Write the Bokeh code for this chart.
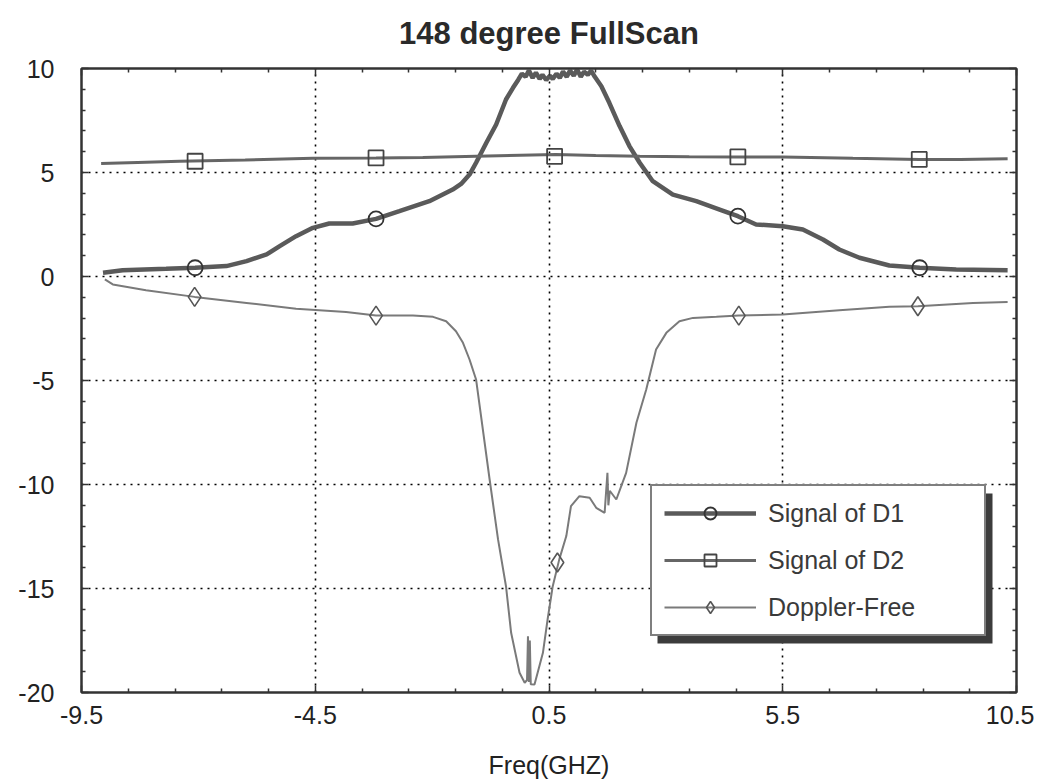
from bokeh.plotting import figure
from bokeh.models import (Range1d, FixedTicker, LinearAxis, Legend, LegendItem, BoxAnnotation,
                          CustomLabelingPolicy, CustomJSTickFormatter)
from bokeh.embed import file_html
from bokeh.resources import INLINE

# ---------------- data ----------------
title_text = "148 degree FullScan"
x_label = "Freq(GHZ)"
x_ticks = [-9.5, -4.5, 0.5, 5.5, 10.5]
x_minor = [-8.5, -7.5, -6.5, -5.5, -3.5, -2.5, -1.5, -0.5, 1.5, 2.5, 3.5, 4.5, 6.5, 7.5, 8.5, 9.5]
y_ticks = [-20, -15, -10, -5, 0, 5, 10]
y_minor = [v for v in range(-20, 11) if v % 5 != 0]

d1_x = [-9.04, -8.62, -7.69, -7.07, -6.40, -5.97, -5.54, -5.26, -4.91, -4.55, -4.20, -3.70,
        -3.20, -2.70, -2.06, -1.56, -1.38, -1.20, -1.06, -0.84, -0.63, -0.42, -0.27,
        -0.16, -0.08, 0.00, 0.07, 0.15, 0.22, 0.30, 0.36, 0.44, 0.52, 0.58, 0.66, 0.73,
        0.80, 0.88, 0.95, 1.03, 1.10, 1.18, 1.25, 1.33, 1.40, 1.48,
        1.62, 1.79, 2.01, 2.22, 2.44, 2.72, 3.15, 3.65, 4.15, 4.54, 4.93, 5.50, 5.93,
        6.36, 6.71, 7.14, 7.78, 8.43, 9.21, 10.31]
d1_y = [0.18, 0.30, 0.37, 0.42, 0.50, 0.74, 1.06, 1.46, 1.94, 2.34, 2.55, 2.55,
        2.77, 3.14, 3.62, 4.18, 4.45, 4.90, 5.47, 6.43, 7.31, 8.51, 9.07,
        9.45, 9.75, 9.60, 9.90, 9.55, 9.80, 9.50, 9.70, 9.45, 9.65, 9.50, 9.75, 9.55,
        9.85, 9.60, 9.90, 9.65, 9.95, 9.60, 9.85, 9.70, 9.90, 9.60,
        9.15, 8.35, 7.23, 6.27, 5.47, 4.58, 3.94, 3.62, 3.22, 2.90, 2.50, 2.42, 2.26,
        1.78, 1.30, 0.90, 0.53, 0.42, 0.34, 0.30]

d2_x = [-9.08, -8.30, -7.40, -6.00, -4.55, -3.20, -2.20, -1.06, 0.65, 1.50, 2.44,
        3.50, 4.50, 5.50, 7.00, 8.42, 9.30, 10.31]
d2_y = [5.43, 5.48, 5.54, 5.60, 5.69, 5.70, 5.72, 5.78, 5.86, 5.82, 5.78,
        5.76, 5.75, 5.75, 5.68, 5.63, 5.62, 5.66]

df_x = [-9.00, -8.83, -8.12, -7.08, -5.97, -4.91, -3.84, -3.20, -2.41, -1.98, -1.70,
        -1.49, -1.34, -1.20, -1.06, -0.77, -0.59, -0.42, -0.31, -0.13, -0.02, 0.03,
        0.05, 0.07, 0.09, 0.11, 0.19, 0.37, 0.47, 0.58, 0.72, 0.87, 0.97, 1.15, 1.37,
        1.51, 1.69, 1.75, 1.77, 1.80, 1.94, 2.15, 2.37, 2.58, 2.79, 3.01, 3.29, 3.58,
        4.08, 4.56, 5.50, 6.71, 7.78, 8.39, 9.57, 10.31]
df_y = [-0.14, -0.38, -0.66, -0.98, -1.27, -1.55, -1.71, -1.88, -1.88, -1.94, -2.15,
        -2.63, -3.19, -3.99, -4.95, -9.76, -12.64, -14.89, -17.13, -19.05, -19.53, -19.40,
        -17.30, -19.50, -17.50, -19.60, -19.62, -18.09, -16.49, -14.89, -13.60, -12.48,
        -11.04, -10.56, -10.64, -11.12, -11.36, -9.44, -11.00, -10.30, -10.72, -9.44,
        -7.03, -5.43, -3.51, -2.71, -2.15, -1.99, -1.94, -1.88, -1.83, -1.62, -1.46,
        -1.43, -1.27, -1.23]

d1_mx = [-7.07, -3.20, 4.54, 8.43]
d1_my = [0.42, 2.77, 2.90, 0.42]
d2_mx = [-7.07, -3.20, 0.62, 4.54, 8.42]
d2_my = [5.54, 5.70, 5.78, 5.75, 5.63]
df_mx = [-7.08, -3.20, 0.68, 4.56, 8.39]
df_my = [-0.98, -1.88, -13.75, -1.88, -1.43]

labels = ["Signal of D1", "Signal of D2", "Doppler-Free"]

# ---------------- figure ----------------
FONT = "Liberation Sans"
FW, FH = 935, 624

p = figure(frame_width=FW, frame_height=FH,
           x_range=Range1d(-9.5, 10.5), y_range=Range1d(-20, 10),
           output_backend="svg", toolbar_location=None,
           min_border_left=81, min_border_right=18, min_border_top=68, min_border_bottom=84,
           title=title_text)
p.xaxis.visible = False
p.yaxis.visible = False

p.title.align = "center"
p.title.vertical_align = "top"
p.title.text_font = FONT
p.title.text_font_size = "31px"
p.title.text_font_style = "bold"
p.title.text_color = "#2a2a2a"
p.title.standoff = 24

p.outline_line_color = "#333333"
p.outline_line_width = 2
p.background_fill_color = "white"
p.border_fill_color = "white"

no_labels = CustomLabelingPolicy(code="return new Set()")
plain = CustomJSTickFormatter(code="return String(tick)")


def style_axis(ax, show_labels):
    ax.axis_line_color = "#333333"
    ax.axis_line_width = 2
    ax.major_tick_in = 7
    ax.major_tick_out = 0
    ax.minor_tick_in = 4
    ax.minor_tick_out = 0
    ax.major_tick_line_color = "#333333"
    ax.minor_tick_line_color = "#333333"
    ax.major_tick_line_width = 1.5
    ax.minor_tick_line_width = 1.5
    ax.major_label_text_font = FONT
    ax.major_label_text_color = "#222222"
    ax.formatter = plain
    if show_labels:
        ax.major_label_text_font_size = "25px"
    else:
        ax.major_label_text_font_size = "1px"
        ax.major_label_policy = no_labels
        ax.major_label_standoff = 0


xt = FixedTicker(ticks=x_ticks, minor_ticks=x_minor)
yt = FixedTicker(ticks=y_ticks, minor_ticks=y_minor)

bottom = LinearAxis(ticker=xt, axis_label=x_label)
style_axis(bottom, True)
bottom.major_label_standoff = 13
bottom.axis_label_text_font = FONT
bottom.axis_label_text_font_size = "25px"
bottom.axis_label_text_font_style = "normal"
bottom.axis_label_text_color = "#222222"
bottom.axis_label_standoff = 24
p.add_layout(bottom, "below")

left = LinearAxis(ticker=yt)
style_axis(left, True)
left.major_label_standoff = 27
p.add_layout(left, "left")

top = LinearAxis(ticker=xt)
style_axis(top, False)
p.add_layout(top, "above")

right = LinearAxis(ticker=yt)
style_axis(right, False)
p.add_layout(right, "right")

p.xgrid.ticker = xt
p.ygrid.ticker = yt
p.grid.grid_line_color = "black"
p.grid.grid_line_dash = "2 5"
p.grid.grid_line_width = 1.6

# ---------------- series ----------------
l1 = p.line(d1_x, d1_y, line_color="#5a5a5a", line_width=4.5)
l2 = p.line(d2_x, d2_y, line_color="#666666", line_width=3)
l3 = p.line(df_x, df_y, line_color="#7a7a7a", line_width=2)

s1 = p.scatter(d1_mx, d1_my, marker="circle", size=15, fill_alpha=0,
               line_color="#333333", line_width=1.8)
s2 = p.scatter(d2_mx, d2_my, marker="square", size=15, fill_alpha=0,
               line_color="#444444", line_width=1.8)
s3 = p.scatter(df_mx, df_my, marker="diamond", size=19, fill_alpha=0,
               line_color="#555555", line_width=1.6)

# ---------------- legend with shadow ----------------
LEG_LEFT, LEG_BOTTOM = 569, 56   # screen px from frame bottom-left
LEG_W, LEG_H = 335, 150
SH = 7
xs = 20.0 / FW
ys = 30.0 / FH
shadow = BoxAnnotation(left=-9.5 + (LEG_LEFT + SH) * xs,
                       right=-9.5 + (LEG_LEFT + LEG_W + SH) * xs,
                       bottom=-20 + (LEG_BOTTOM - SH) * ys,
                       top=-20 + (LEG_BOTTOM + LEG_H - SH) * ys,
                       fill_color="#3c3c3c", fill_alpha=1, line_color=None)
p.add_layout(shadow)

legend = Legend(items=[LegendItem(label=labels[0], renderers=[l1, s1]),
                       LegendItem(label=labels[1], renderers=[l2, s2]),
                       LegendItem(label=labels[2], renderers=[l3, s3])],
                location=(LEG_LEFT, LEG_BOTTOM), orientation="vertical")
legend.margin = 0
legend.padding = 12
legend.spacing = 17
legend.glyph_width = 92
legend.glyph_height = 30
legend.label_standoff = 12
legend.label_width = 204
legend.label_height = 30
legend.label_text_font = FONT
legend.label_text_font_size = "25px"
legend.label_text_color = "#3a3a3a"
legend.border_line_color = "black"
legend.border_line_width = 2
legend.background_fill_color = "white"
legend.background_fill_alpha = 1
p.add_layout(legend, "center")

open("out.html", "w").write(file_html(p, INLINE))
